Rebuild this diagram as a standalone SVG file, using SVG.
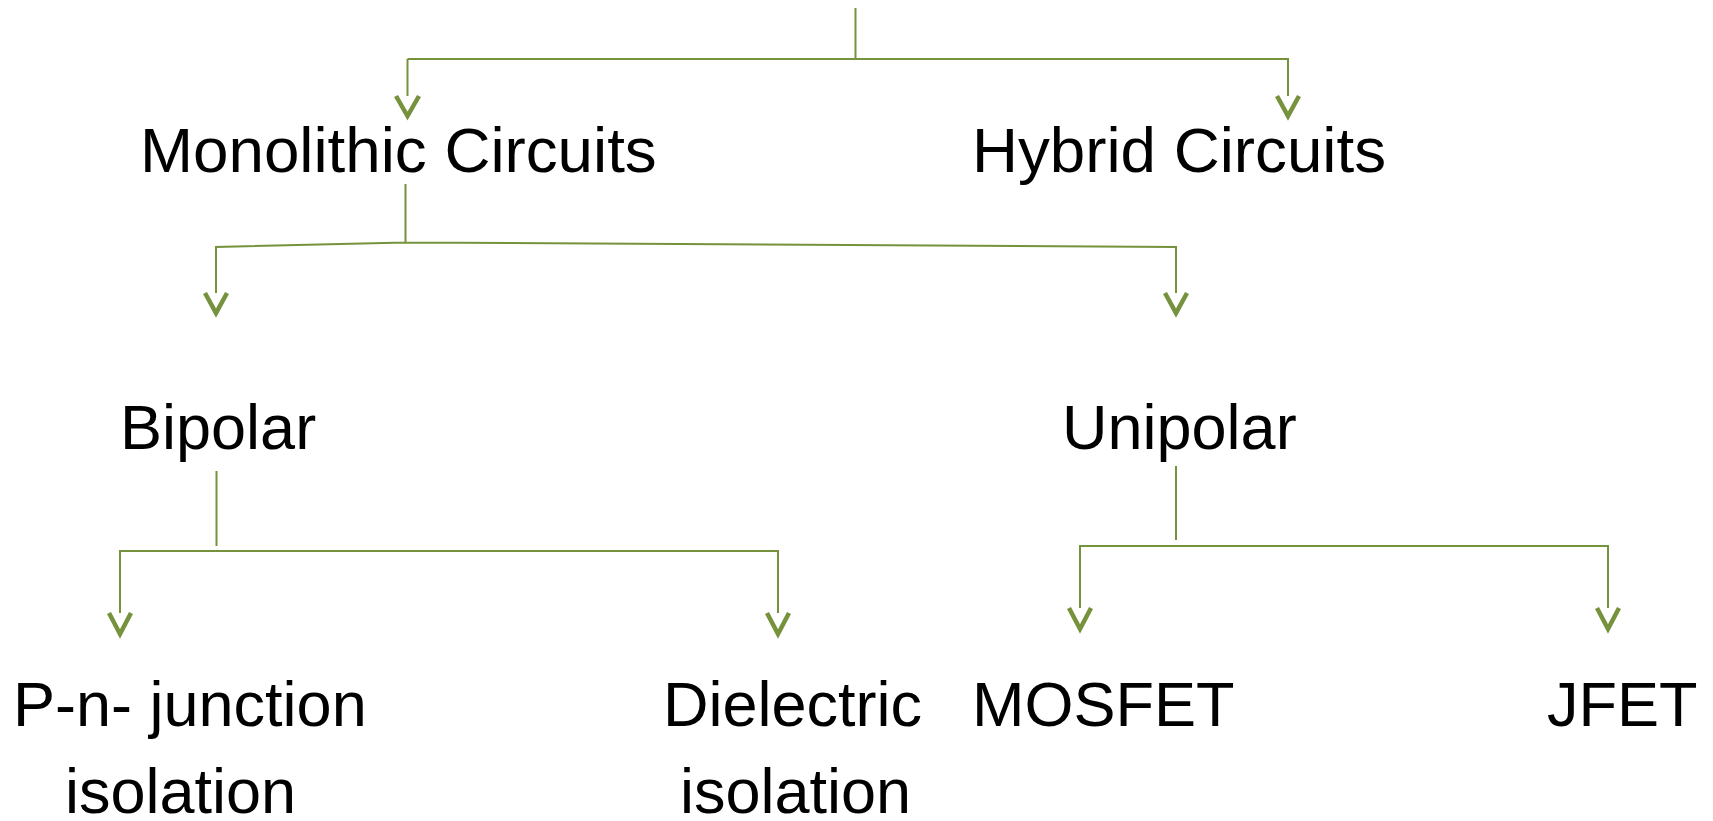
<svg xmlns="http://www.w3.org/2000/svg" width="1713" height="821" viewBox="0 0 1713 821">
<style>
.t{font-family:"Liberation Sans",Arial,sans-serif;font-size:63px;fill:#000}
.t2{font-size:63.7px}
.ln{fill:none;stroke:#76923C;stroke-width:2}
.ah{fill:none;stroke:#76923C;stroke-width:4.5;stroke-linecap:butt;stroke-linejoin:miter}
</style>
<rect width="1713" height="821" fill="#fff"/>
<g id="connectors">
<path class="ln" d="M855.5,8 V59 M407.5,59 H1288 V96 M407.5,59 V96"/>
<path class="ah" d="M396,96 L407.5,116 L419,96 M1277,96 L1288,116 L1299,96"/>
<path class="ln" d="M405.5,184 V242.5 M216,293 V247 L405.5,242.5 L1176,247 V293"/>
<path class="ah" d="M205,293 L216,313 L227,293 M1165,293 L1176,313 L1187,293"/>
<path class="ln" d="M216.5,471 V546 M120,613 V551 H778 V613"/>
<path class="ah" d="M109,613 L120,634 L131,613 M767,613 L778,634 L789,613"/>
<path class="ln" d="M1176,466 V540 M1080,608 V546 H1608 V608"/>
<path class="ah" d="M1069,608 L1080,629 L1091,608 M1597,608 L1608,629 L1619,608"/>
</g>
<g id="monolithic"><text class="t t2" x="140" y="172">Monolithic Circuits</text></g>
<g id="hybrid"><text class="t t2" x="972" y="172">Hybrid Circuits</text></g>
<g id="bipolar"><text class="t" x="120" y="449">Bipolar</text></g>
<g id="unipolar"><text class="t" x="1062" y="449">Unipolar</text></g>
<g id="pn-junction"><text class="t" x="13" y="726">P-n- junction</text><text class="t" x="65" y="813">isolation</text></g>
<g id="dielectric"><text class="t" x="663" y="726">Dielectric</text><text class="t" x="680" y="813">isolation</text></g>
<g id="mosfet"><text class="t" x="972" y="726">MOSFET</text></g>
<g id="jfet"><text class="t" x="1547" y="726">JFET</text></g>
</svg>
